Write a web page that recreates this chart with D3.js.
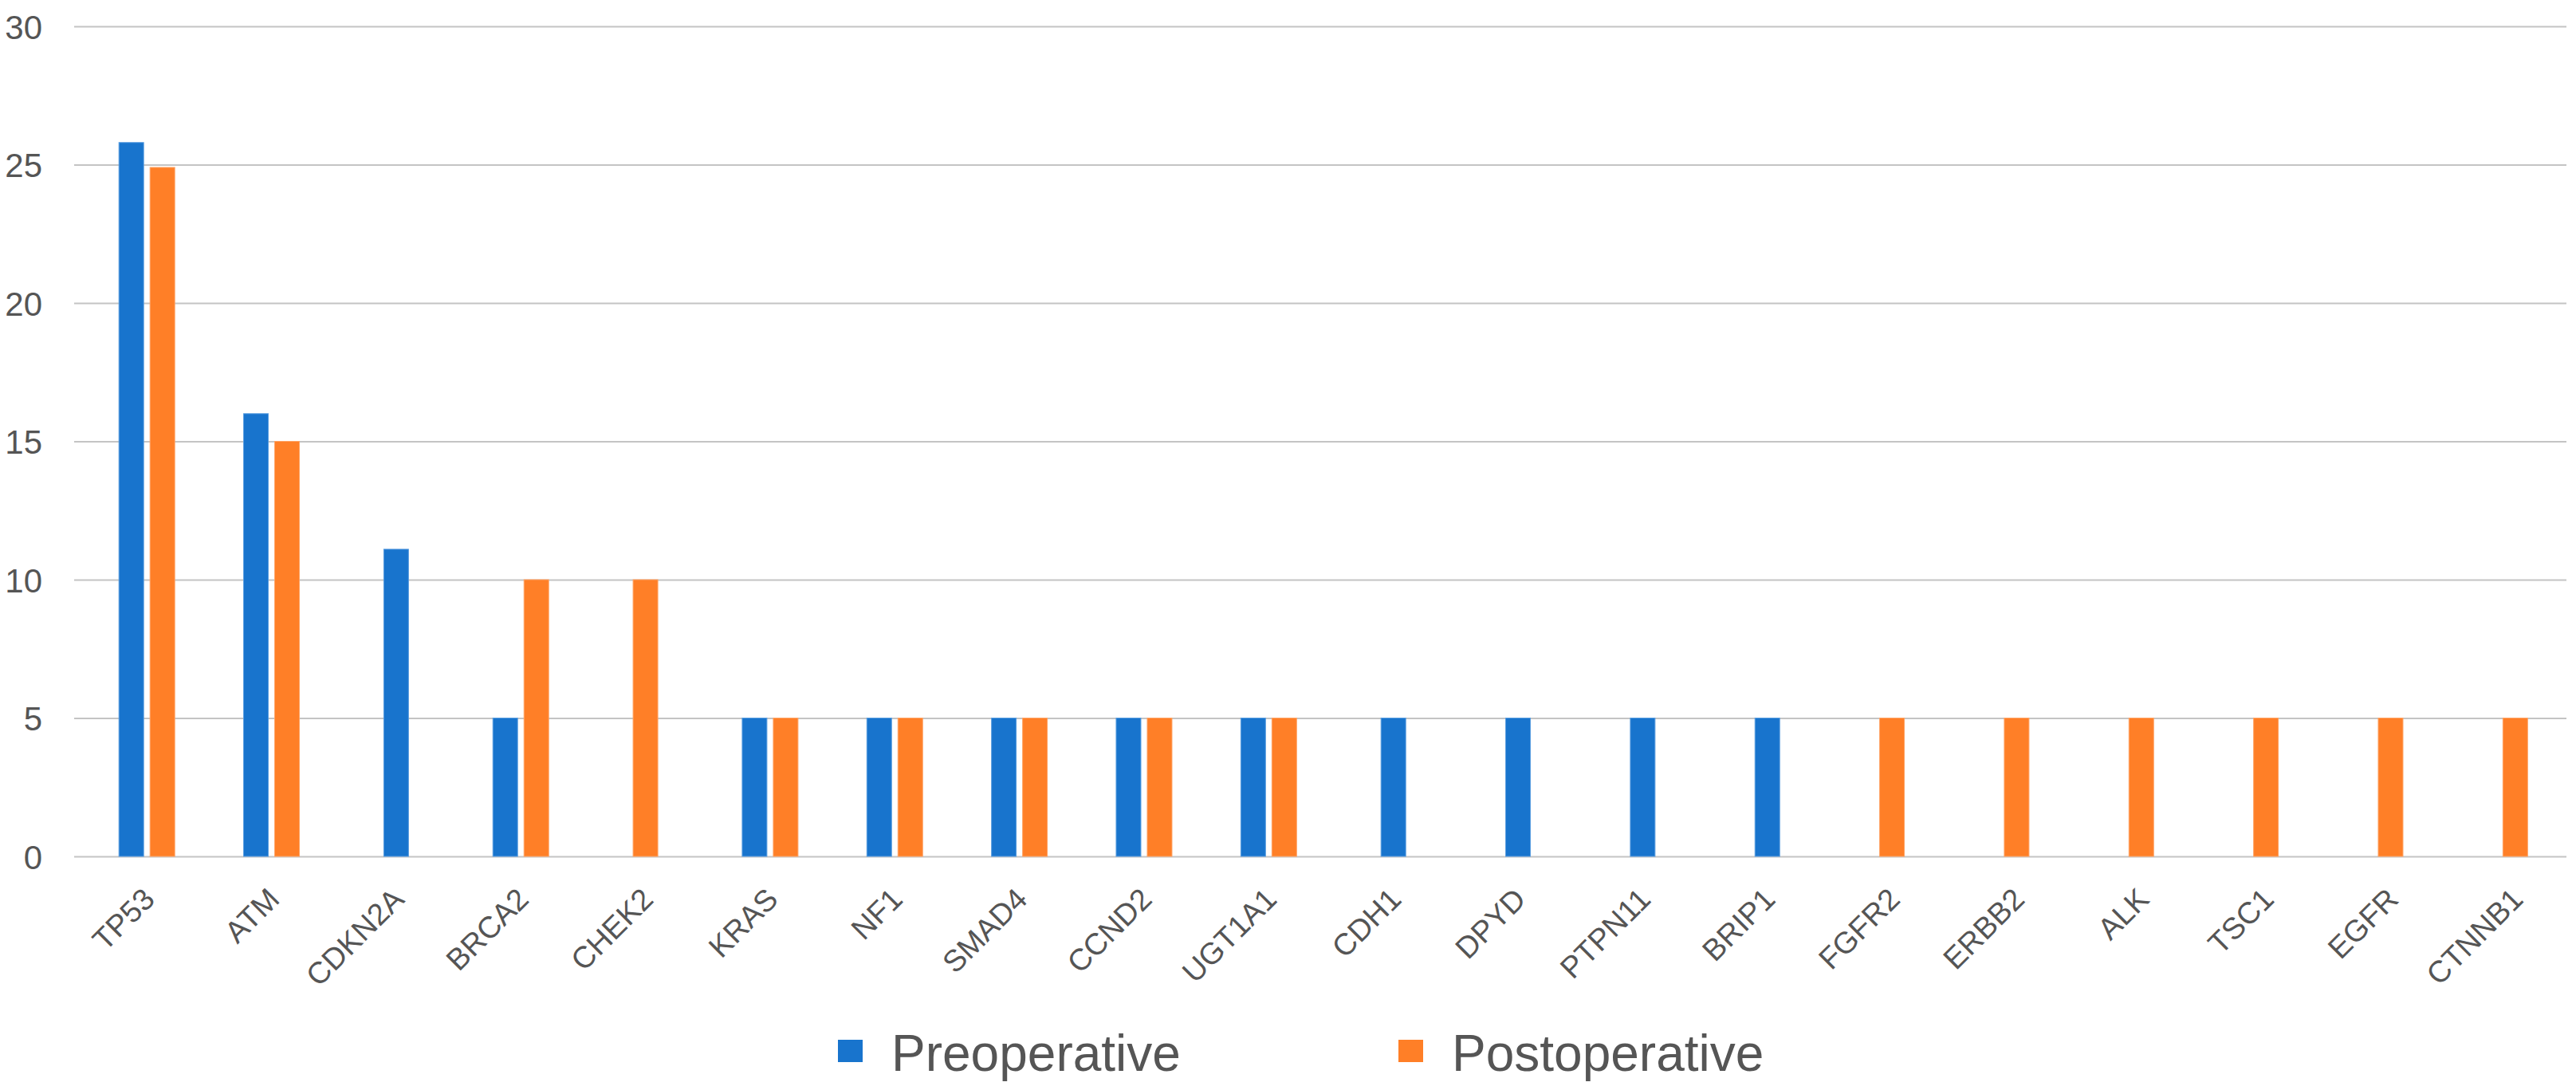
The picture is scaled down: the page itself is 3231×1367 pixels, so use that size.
<!DOCTYPE html>
<html>
<head>
<meta charset="utf-8">
<script src="https://cdn.jsdelivr.net/npm/d3@7"></script>
<style>
  body { margin: 0; background: #fff; }
  svg { display: block; font-family: "Liberation Sans", Arial, sans-serif; }
</style>
</head>
<body>
<svg id="chart" width="3231" height="1367"></svg>
<script>
// data
var genes = ["TP53", "ATM", "CDKN2A", "BRCA2", "CHEK2", "KRAS", "NF1", "SMAD4", "CCND2", "UGT1A1",
  "CDH1", "DPYD", "PTPN11", "BRIP1", "FGFR2", "ERBB2", "ALK", "TSC1", "EGFR", "CTNNB1"];
var preoperative = [25.8, 16, 11.1, 5, 0, 5, 5, 5, 5, 5, 5, 5, 5, 5, 0, 0, 0, 0, 0, 0];
var postoperative = [24.9, 15, 0, 10, 10, 5, 5, 5, 5, 5, 0, 0, 0, 0, 5, 5, 5, 5, 5, 5];
var seriesNames = ["Preoperative", "Postoperative"];
var yTicks = [0, 5, 10, 15, 20, 25, 30];

var colors = ["#1874cd", "#ff7f27"];
var strokes = ["#5a9ee0", "#ffa466"];

var W = 3231, H = 1367;
var plotLeft = 93, plotRight = 3219, plotTop = 33, plotBottom = 1074;
var barW = 31, barGap = 8;

var svg = d3.select('#chart');

var x = d3.scaleBand()
  .domain(genes)
  .range([106, 3233]);

var y = d3.scaleLinear()
  .domain([0, 30])
  .range([plotBottom, plotTop]);

// grid + y labels
var yAxis = svg.append('g')
  .attr('transform', 'translate(' + plotLeft + ',0)')
  .call(d3.axisLeft(y)
    .tickValues(yTicks)
    .tickSize(-(plotRight - plotLeft))
    .tickPadding(40));

yAxis.select('.domain').remove();
yAxis.selectAll('.tick line')
  .attr('stroke', '#c4c4c4')
  .attr('stroke-width', 2);
yAxis.selectAll('.tick text')
  .attr('fill', '#555')
  .attr('font-size', 42)
  .attr('dy', '0.36em');

// bars: a gene with only one value gets a single centred bar
var rows = genes.map(function (g, i) {
  var vals = [preoperative[i], postoperative[i]];
  var present = [];
  vals.forEach(function (v, s) {
    if (v > 0) present.push({ gene: g, series: s, value: v });
  });
  var total = present.length * barW + (present.length - 1) * barGap;
  var start = x(g) + x.bandwidth() / 2 - total / 2;
  present.forEach(function (d, k) {
    d.x = start + k * (barW + barGap);
  });
  return present;
});

svg.append('g')
  .selectAll('rect')
  .data(d3.merge(rows))
  .join('rect')
  .attr('x', function (d) { return d.x; })
  .attr('y', function (d) { return y(d.value); })
  .attr('width', barW)
  .attr('height', function (d) { return y(0) - y(d.value); })
  .attr('fill', function (d) { return colors[d.series]; })
  .attr('stroke', function (d) { return strokes[d.series]; })
  .attr('stroke-width', 1);

// x labels, rotated
var xAxis = svg.append('g')
  .attr('transform', 'translate(0,' + plotBottom + ')')
  .call(d3.axisBottom(x).tickSize(0));

xAxis.select('.domain').remove();
xAxis.selectAll('.tick text')
  .attr('fill', '#555')
  .attr('font-size', 38)
  .attr('x', 0)
  .attr('y', 0)
  .attr('dy', 0)
  .attr('text-anchor', 'end')
  .attr('transform', 'translate(12,56) rotate(-45)');

// legend
var legendX = [1051, 1754];
var legend = svg.append('g')
  .selectAll('g')
  .data(seriesNames)
  .join('g')
  .attr('transform', function (d, i) { return 'translate(' + legendX[i] + ',1304)'; });

legend.append('rect')
  .attr('width', 31)
  .attr('height', 28)
  .attr('fill', function (d, i) { return colors[i]; });

legend.append('text')
  .attr('x', 67)
  .attr('y', 39)
  .attr('font-size', 64)
  .attr('fill', '#555')
  .text(function (d) { return d; });
</script>
</body>
</html>
